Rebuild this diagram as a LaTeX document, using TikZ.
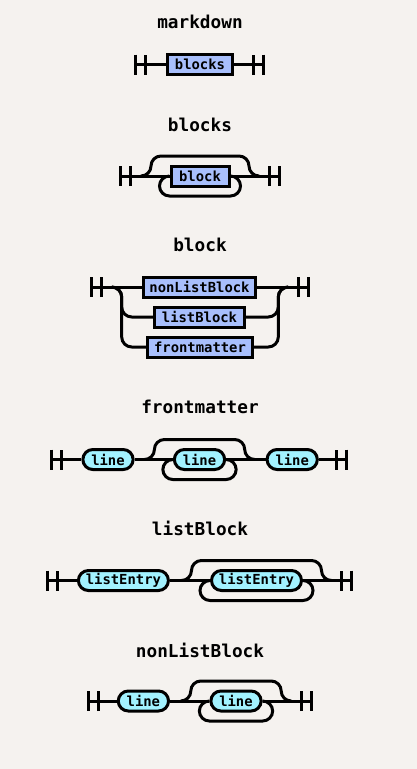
\documentclass[tikz,border=0pt]{standalone}
\usepackage{fontspec}
\setmonofont{DejaVu Sans Mono}
\usepackage{tikz}
\usepackage{xcolor}

\definecolor{paper}{HTML}{F5F2EF}
\definecolor{ntfill}{HTML}{A8BFFC}
\definecolor{tfill}{HTML}{A2F2FF}

\tikzset{
  rail/.style={line width=2.25pt},
  track/.style={rail,rounded corners=7.5pt},
  ntbox/.style={draw,rail,fill=ntfill,minimum height=15pt,inner sep=0pt,
    font=\ttfamily\bfseries\fontsize{10.4}{12}\selectfont},
  tbox/.style={ntbox,fill=tfill,rounded corners=7.5pt},
  rtitle/.style={font=\ttfamily\bfseries\fontsize{13.3}{16}\selectfont},
}

\begin{document}
\begin{tikzpicture}[x=0.75pt,y=-0.75pt]
        % Paper
        \fill[paper] (0,0) rectangle (417,769);
        \useasboundingbox (0,0) rectangle (417,769);

        % markdown
        \node[rtitle] (md) at (200,22) {markdown};
        \node[ntbox,minimum width=49.2pt] (md-blocks) at (200,64.5) {blocks};
        \coordinate (md-s) at (135.7,64.5);
        \coordinate (md-e) at (263.5,64.5);
        \draw[rail] (md-s) -- (md-blocks.west) (md-blocks.east) -- (md-e);
        \draw[rail] (md-s) ++(0,-10) -- ++(0,20) ++(10,0) -- ++(0,-20);
        \draw[rail] (md-e) ++(0,-10) -- ++(0,20) ++(-10,0) -- ++(0,-20);

        % blocks
        \node[rtitle] (bs) at (200,125) {blocks};
        \node[ntbox,minimum width=43.5pt] (bs-block) at (200,176) {block};
        \coordinate (bs-s) at (120,176);
        \coordinate (bs-x0) at (141,176);
        \coordinate (bs-xe) at (259,176);
        \coordinate (bs-e) at (279.5,176);
        \draw[rail] (bs-s) -- (bs-block.west) (bs-block.east) -- (bs-e);
        \draw[track] (bs-x0) -- ++(10,0) -- ++(0,-20) -| ([xshift=-7.5pt]bs-xe) -- (bs-xe);
        \draw[track] (bs-block.east) -- ++(10,0) -- ++(0,20) -| ([xshift=-7.5pt]bs-block.west) -- (bs-block.west);
        \draw[rail] (bs-s) ++(0,-10) -- ++(0,20) ++(10,0) -- ++(0,-20);
        \draw[rail] (bs-e) ++(0,-10) -- ++(0,20) ++(-10,0) -- ++(0,-20);

        % block
        \node[rtitle] (bk) at (200,245) {block};
        \node[ntbox,minimum width=84pt] (bk-nonlist) at (199.5,287) {nonListBlock};
        \node[ntbox,minimum width=67pt] (bk-list) at (199.5,317) {listBlock};
        \node[ntbox,minimum width=78.2pt] (bk-front) at (200,347) {frontmatter};
        \coordinate (bk-s) at (91.7,287);
        \coordinate (bk-x0) at (111.7,287);
        \coordinate (bk-xe) at (288.3,287);
        \coordinate (bk-e) at (308.3,287);
        \draw[rail] (bk-s) -- (bk-nonlist.west) (bk-nonlist.east) -- (bk-e);
        \draw[track] (bk-x0) -- ++(10,0) |- (bk-list.west);
        \draw[track] (bk-x0) -- ++(10,0) |- (bk-front.west);
        \draw[track] (bk-list.east) -| ([xshift=-7.5pt]bk-xe) -- (bk-xe);
        \draw[track] (bk-front.east) -| ([xshift=-7.5pt]bk-xe) -- (bk-xe);
        \draw[rail] (bk-s) ++(0,-10) -- ++(0,20) ++(10,0) -- ++(0,-20);
        \draw[rail] (bk-e) ++(0,-10) -- ++(0,20) ++(-10,0) -- ++(0,-20);

        % frontmatter
        \node[rtitle] (fm) at (200,407) {frontmatter};
        \node[tbox,minimum width=37.7pt] (fm-l1) at (108,459.5) {line};
        \node[tbox,minimum width=37.7pt] (fm-l2) at (199.5,459.5) {line};
        \node[tbox,minimum width=37.7pt] (fm-l3) at (292.2,459.5) {line};
        \coordinate (fm-s) at (51.7,459.5);
        \coordinate (fm-x0) at (144.4,459.5);
        \coordinate (fm-xe) at (254.7,459.5);
        \coordinate (fm-e) at (346.7,459.5);
        \draw[rail] (fm-s) -- (fm-l1.west) (fm-l1.east) -- (fm-l2.west)
              (fm-l2.east) -- (fm-l3.west) (fm-l3.east) -- (fm-e);
        \draw[track] (fm-x0) -- ++(10,0) -- ++(0,-20) -| ([xshift=-7.5pt]fm-xe) -- (fm-xe);
        \draw[track] (fm-l2.east) -- ++(10,0) -- ++(0,20) -| ([xshift=-7.5pt]fm-l2.west) -- (fm-l2.west);
        \draw[rail] (fm-s) ++(0,-10) -- ++(0,20) ++(10,0) -- ++(0,-20);
        \draw[rail] (fm-e) ++(0,-10) -- ++(0,20) ++(-10,0) -- ++(0,-20);

        % listBlock
        \node[rtitle] (lb) at (200,528) {listBlock};
        \node[tbox,minimum width=67.5pt] (lb-e1) at (123.4,580.5) {listEntry};
        \node[tbox,minimum width=67.5pt] (lb-e2) at (256.5,580.5) {listEntry};
        \coordinate (lb-s) at (47.3,580.5);
        \coordinate (lb-x0) at (181.5,580.5);
        \coordinate (lb-xe) at (331.5,580.5);
        \coordinate (lb-e) at (351.5,580.5);
        \draw[rail] (lb-s) -- (lb-e1.west) (lb-e1.east) -- (lb-e2.west) (lb-e2.east) -- (lb-e);
        \draw[track] (lb-x0) -- ++(10,0) -- ++(0,-20) -| ([xshift=-7.5pt]lb-xe) -- (lb-xe);
        \draw[track] (lb-e2.east) -- ++(10,0) -- ++(0,20) -| ([xshift=-7.5pt]lb-e2.west) -- (lb-e2.west);
        \draw[rail] (lb-s) ++(0,-10) -- ++(0,20) ++(10,0) -- ++(0,-20);
        \draw[rail] (lb-e) ++(0,-10) -- ++(0,20) ++(-10,0) -- ++(0,-20);

        % nonListBlock
        \node[rtitle] (nl) at (200,650) {nonListBlock};
        \node[tbox,minimum width=37.7pt] (nl-l1) at (143.4,701) {line};
        \node[tbox,minimum width=37.7pt] (nl-l2) at (236,701) {line};
        \coordinate (nl-s) at (88.3,701);
        \coordinate (nl-x0) at (180.8,701);
        \coordinate (nl-xe) at (291.2,701);
        \coordinate (nl-e) at (311.5,701);
        \draw[rail] (nl-s) -- (nl-l1.west) (nl-l1.east) -- (nl-l2.west) (nl-l2.east) -- (nl-e);
        \draw[track] (nl-x0) -- ++(10,0) -- ++(0,-20) -| ([xshift=-7.5pt]nl-xe) -- (nl-xe);
        \draw[track] (nl-l2.east) -- ++(10,0) -- ++(0,20) -| ([xshift=-7.5pt]nl-l2.west) -- (nl-l2.west);
        \draw[rail] (nl-s) ++(0,-10) -- ++(0,20) ++(10,0) -- ++(0,-20);
        \draw[rail] (nl-e) ++(0,-10) -- ++(0,20) ++(-10,0) -- ++(0,-20);
    \end{tikzpicture}
\end{document}
